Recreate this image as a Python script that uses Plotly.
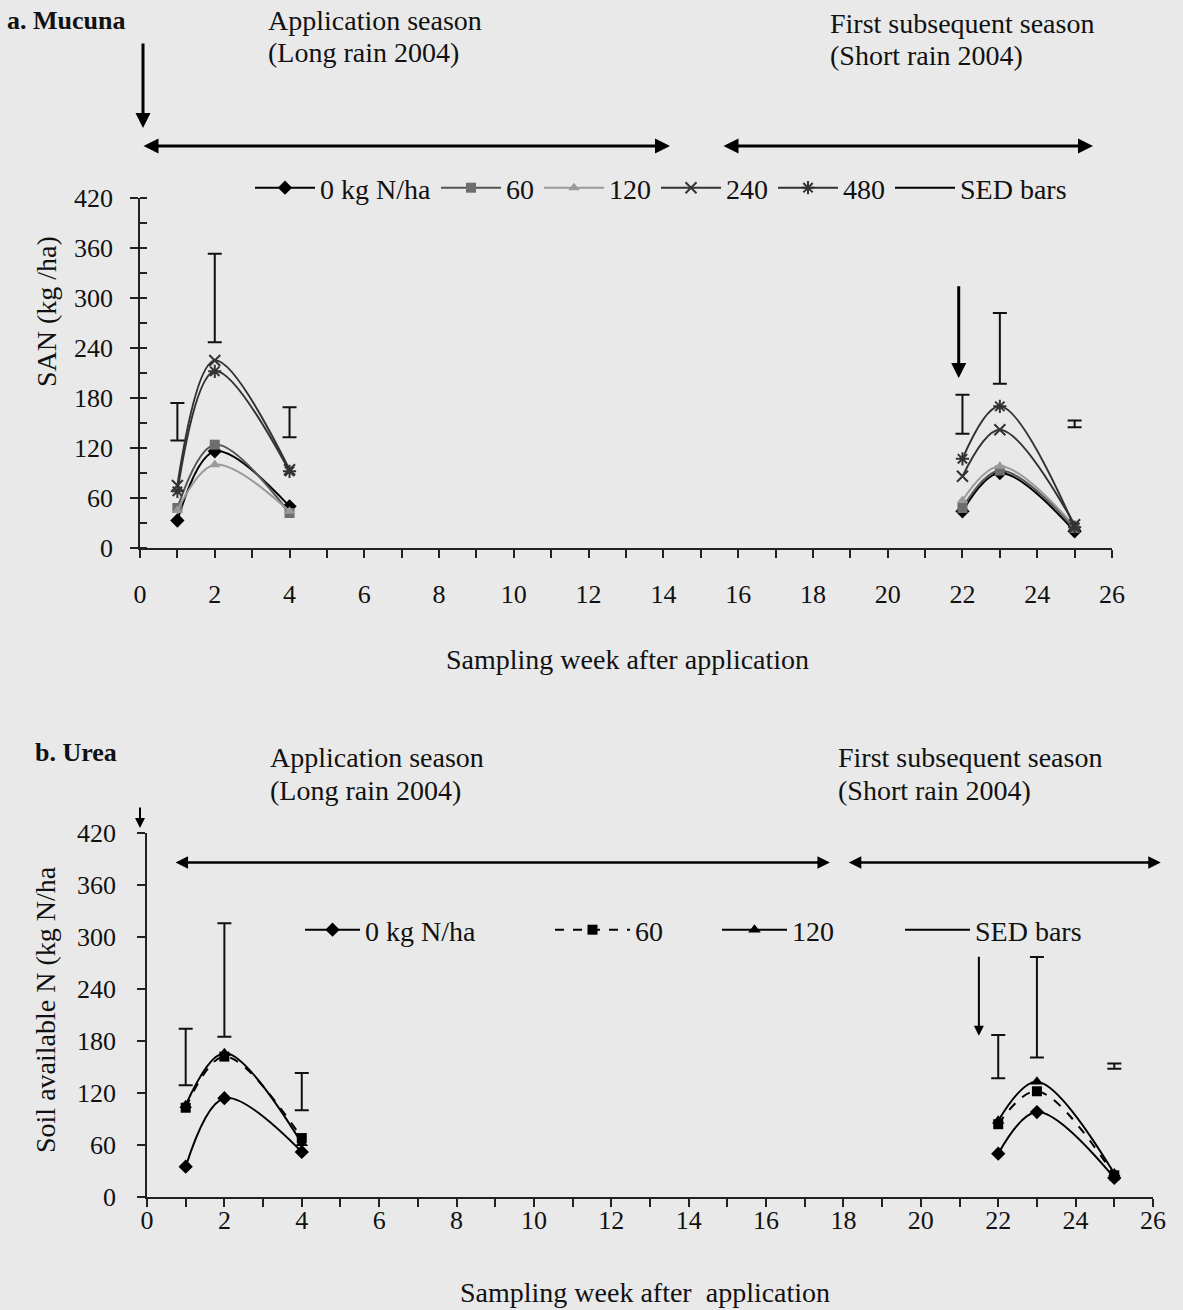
import plotly.graph_objects as go

W, H = 1183, 1310
FONT = "Liberation Serif"

# ---------------- data ----------------
weeks = [1, 2, 4, None, 22, 23, 25]
sed_weeks = [1, 2, 4, 22, 23, 25]

# Panel a (Mucuna)
a_0 = [33, 116, 50, None, 44, 90, 20]
a_60 = [48, 124, 42, None, 48, 93, 24]
a_120 = [45, 100, 44, None, 57, 98, 26]
a_240 = [75, 225, 94, None, 86, 142, 28]
a_480 = [68, 212, 92, None, 107, 170, 25]
a_sed_low = [129, 247, 133, 137, 197, 145]
a_sed_high = [174, 353, 169, 184, 282, 153]

# Panel b (Urea)
b_0 = [35, 114, 52, None, 50, 98, 22]
b_60 = [103, 162, 68, None, 84, 122, 25]
b_120 = [106, 166, 62, None, 88, 133, 27]
b_sed_low = [129, 185, 100, 137, 161, 148]
b_sed_high = [194, 316, 143, 187, 277, 154]

y_ticks = [0, 60, 120, 180, 240, 300, 360, 420]
x_ticks = list(range(0, 27, 2))


def px(x):
    return x / W


def py(y):
    return 1 - y / H


fig = go.Figure()

# ---------- panel a traces ----------
a_series = [
    ("0 kg N/ha", a_0, "#000000", "#000000", "diamond", 11),
    ("60", a_60, "#555555", "#6e6e6e", "square", 10),
    ("120", a_120, "#9a9a9a", "#9a9a9a", "triangle-up", 10),
    ("240", a_240, "#333333", "#333333", "x-thin-open", 11),
    ("480", a_480, "#333333", "#333333", "asterisk-open", 11),
]
for name, vals, lc, mc, sym, ms in a_series:
    open_sym = sym.endswith("open")
    fig.add_trace(go.Scatter(
        x=weeks, y=vals, name=name, mode="lines+markers",
        line=dict(color=lc, width=2, shape="spline", smoothing=1),
        marker=dict(symbol=sym, size=ms, color=mc,
                    line=dict(color=mc, width=2 if open_sym else 0)),
        connectgaps=False, xaxis="x", yaxis="y", legend="legend",
    ))


def sed_trace(low, high, xa, ya, leg):
    xs, mids, halves = [], [], []
    for i, w in enumerate(sed_weeks):
        xs += [w, None]
        mids += [(low[i] + high[i]) / 2, None]
        halves += [(high[i] - low[i]) / 2, 0]
    return go.Scatter(
        x=xs, y=mids, name="SED bars", mode="lines",
        line=dict(color="#000000", width=2), connectgaps=False,
        error_y=dict(type="data", array=halves, symmetric=True,
                     color="#111111", thickness=2, width=7),
        xaxis=xa, yaxis=ya, legend=leg,
    )


fig.add_trace(sed_trace(a_sed_low, a_sed_high, "x", "y", "legend"))

# ---------- panel b traces ----------
b_series = [
    ("0 kg N/ha", b_0, "solid", "diamond", 11, "legend2"),
    ("60", b_60, "dash", "square", 10, "legend3"),
    ("120", b_120, "solid", "triangle-up", 11, "legend4"),
]
for name, vals, dash, sym, ms, lg in b_series:
    fig.add_trace(go.Scatter(
        x=weeks, y=vals, name=name, mode="lines+markers",
        line=dict(color="#000000", width=2, dash=dash, shape="spline", smoothing=1),
        marker=dict(symbol=sym, size=ms, color="#000000"),
        connectgaps=False, xaxis="x2", yaxis="y2", legend=lg,
    ))
fig.add_trace(sed_trace(b_sed_low, b_sed_high, "x2", "y2", "legend5"))

# ---------- axes ----------
tickfont = dict(family=FONT, size=26, color="#111111")
common_x = dict(
    range=[0, 26], tickmode="array", tickvals=x_ticks, ticktext=[str(v) for v in x_ticks],
    showgrid=False, zeroline=False, showline=True, linecolor="#222222", linewidth=1.5,
    ticks="outside", ticklen=8, tickcolor="#222222", tickwidth=1.5, tickfont=tickfont,
    minor=dict(dtick=1, tick0=0, ticks="outside", ticklen=8, tickcolor="#222222", tickwidth=1.5),
)
common_y = dict(
    range=[0, 420], tickmode="array", tickvals=y_ticks, ticktext=[str(v) for v in y_ticks],
    showgrid=False, zeroline=False, showline=True, linecolor="#222222", linewidth=1.5,
    ticks="outside", ticklen=8, tickcolor="#222222", tickwidth=1.5, tickfont=tickfont,
)
legfont = dict(family=FONT, size=28, color="#111111")


def leg(x, y, iw=50):
    return dict(orientation="h", x=px(x), y=py(y), xanchor="left", yanchor="middle",
                bgcolor="rgba(0,0,0,0)", font=legfont, itemwidth=iw, tracegroupgap=0)


fig.update_layout(
    width=W, height=H,
    margin=dict(l=0, r=0, t=0, b=0, autoexpand=False),
    paper_bgcolor="#e9e9e9", plot_bgcolor="rgba(0,0,0,0)",
    font=dict(family=FONT, size=26, color="#111111"),
    xaxis=dict(common_x, domain=[px(140), px(1112)], anchor="y", ticklabelstandoff=14),
    yaxis=dict(common_y, domain=[py(548), py(198)], anchor="x", ticklabelstandoff=12,
               minor=dict(dtick=30, tick0=0, ticks="inside", ticklen=7,
                          tickcolor="#222222", tickwidth=1.5)),
    xaxis2=dict(common_x, domain=[px(147), px(1153)], anchor="y2", ticklabelstandoff=-9),
    yaxis2=dict(common_y, domain=[py(1197), py(833)], anchor="x2", ticklabelstandoff=16),
    legend=leg(250, 188, 60),
    legend2=leg(300, 930, 55),
    legend3=leg(550, 930, 75),
    legend4=leg(717, 930, 65),
    legend5=leg(900, 930, 65),
    showlegend=True,
)


# ---------- text annotations ----------
def text(x, y, s, size=28, bold=False, anchor="left", angle=0):
    fig.add_annotation(
        x=px(x), y=py(y), xref="paper", yref="paper", text=f"<b>{s}</b>" if bold else s,
        showarrow=False, xanchor=anchor, yanchor="middle", textangle=angle,
        font=dict(family=FONT, size=size, color="#111111"),
    )


text(5, 20, "a. Mucuna", bold=True, size=26)
text(266, 20, "Application season")
text(266, 52, "(Long rain 2004)")
text(828, 23, "First subsequent season")
text(828, 55, "(Short rain 2004)")
text(46, 312, "SAN (kg /ha)", anchor="center", angle=-90)
text(627, 660, "Sampling week after application", anchor="center")

text(33, 752, "b. Urea", bold=True, size=26)
text(268, 757, "Application season")
text(268, 790, "(Long rain 2004)")
text(836, 757, "First subsequent season")
text(836, 790, "(Short rain 2004)")
text(46, 1010, "Soil available N (kg N/ha", anchor="center", angle=-90)
text(645, 1292, "Sampling week after  application", anchor="center")


# ---------- arrows ----------
def arrow_data(x, y, ax, ay, xa, ya, both=False, width=3):
    fig.add_annotation(
        x=x, y=y, ax=ax, ay=ay, xref=xa, yref=ya, axref=xa, ayref=ya,
        text="", showarrow=True, arrowhead=2, arrowsize=1, arrowwidth=width,
        arrowcolor="#000000", arrowside="end+start" if both else "end",
        standoff=0, startstandoff=0,
    )


def arrow_paper(x, y, x0, y0, both=False, width=3):
    fig.add_annotation(
        x=px(x), y=py(y), xref="paper", yref="paper", ax=x0 - x, ay=y0 - y,
        text="", showarrow=True, arrowhead=2, arrowsize=1, arrowwidth=width,
        arrowcolor="#000000", arrowside="end+start" if both else "end",
        standoff=0, startstandoff=0,
    )


arrow_paper(143, 128, 143, 42)
arrow_paper(670, 146, 142, 146, both=True)
arrow_paper(1093, 146, 722, 146, both=True)
arrow_data(21.9, 204, 21.9, 316, "x", "y")
arrow_paper(140, 828, 140, 806, width=2)
arrow_data(17.65, 386, 0.7, 386, "x2", "y2", both=True, width=2.5)
arrow_data(26.2, 386, 18.1, 386, "x2", "y2", both=True, width=2.5)
arrow_data(21.5, 186, 21.5, 279, "x2", "y2", width=2)

fig.write_html("out.html", post_script="document.body.style.margin='0px';")
